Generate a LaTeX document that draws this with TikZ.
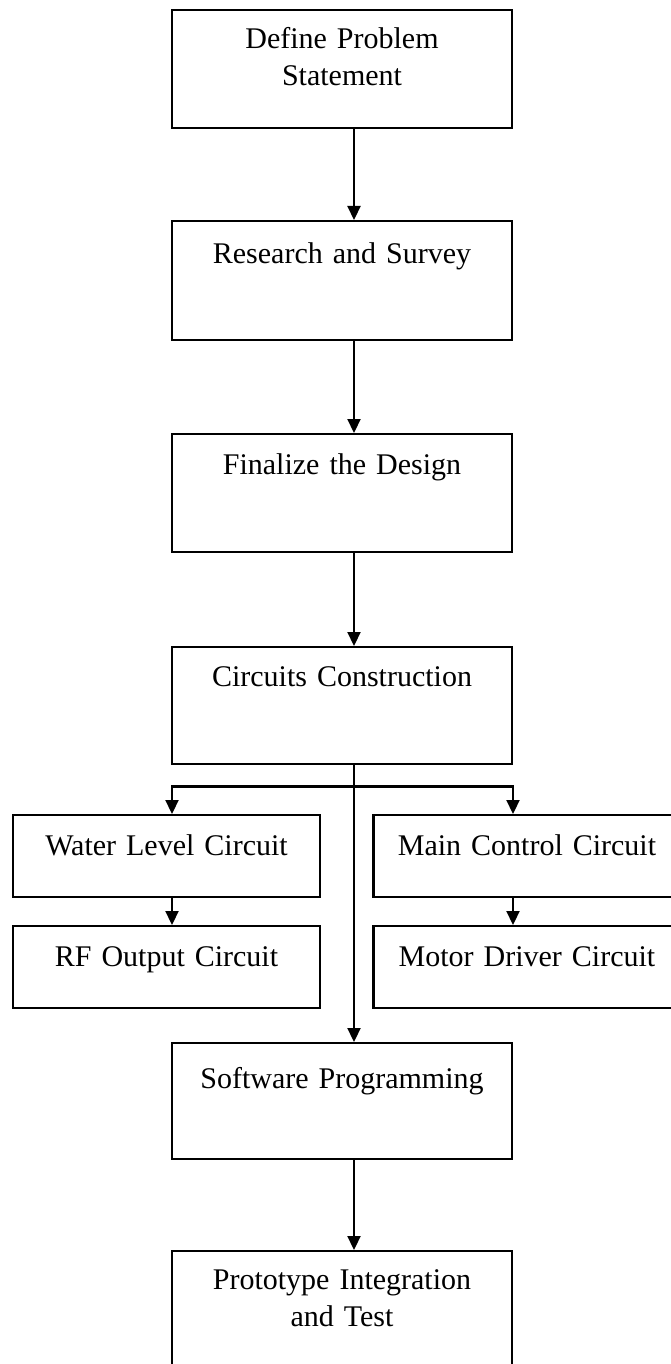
\documentclass[tikz,border=0pt]{standalone}
\usepackage{fontspec}
\setmainfont{Liberation Serif}
\usetikzlibrary{arrows.meta,calc}
\begin{document}
\begin{tikzpicture}[x=1pt,y=-1pt,
  box/.style={draw, line width=2.4pt, inner sep=0pt, align=center, anchor=north,
    font=\fontsize{30}{37}\selectfont},
  mainbox/.style={box, text width=340pt, text height=40pt, text depth=78pt},
  sidebox/.style={box, text width=307pt, text height=40pt, text depth=42pt},
  arr/.style={line width=2.2pt, -{Triangle[length=14pt,width=13pt]}},
  ln/.style={line width=2.2pt}]
\useasboundingbox (0,0) rectangle (671,1364);
\clip (0,0) rectangle (671,1364);
\coordinate (spine) at (354,0);
\coordinate (lbr) at (172,0);
\coordinate (rbr) at (513,0);
\node[mainbox, text height=38pt, text depth=80pt] (define) at (342,9) {Define Problem\\Statement};
\node[mainbox, text height=42pt, text depth=77pt] (research) at (342,220) {Research and Survey};
\node[mainbox] (finalize) at (342,433) {Finalize the Design};
\node[mainbox, text height=39pt, text depth=78pt] (circuits) at (342,646) {Circuits Construction};
\node[sidebox] (water) at (166.5,814) {Water Level Circuit};
\node[sidebox] (rf) at (166.5,925) {RF Output Circuit};
\node[sidebox] (main) at (527,814) {Main Control Circuit};
\node[sidebox] (motor) at (527,925) {Motor Driver Circuit};
\node[mainbox, text height=45pt, text depth=71pt] (software) at (342,1042) {Software Programming};
\node[mainbox, text height=38pt, text depth=80pt] (proto) at (342,1250) {Prototype Integration\\and Test};
\draw[arr] (define.south -| spine) -- (research.north -| spine);
\draw[arr] (research.south -| spine) -- (finalize.north -| spine);
\draw[arr] (finalize.south -| spine) -- (circuits.north -| spine);
\draw[arr] (circuits.south -| spine) -- (software.north -| spine);
\coordinate (bus) at ($(circuits.south)+(0,21)$);
\draw[ln] (circuits.south -| spine) -- (bus -| spine);
\draw[arr] (bus -| spine) -| (water.north -| lbr);
\draw[arr] (bus -| spine) -| (main.north -| rbr);
\draw[arr] (water.south -| lbr) -- (rf.north -| lbr);
\draw[arr] (main.south -| rbr) -- (motor.north -| rbr);
\draw[arr] (software.south -| spine) -- (proto.north -| spine);
\end{tikzpicture}
\end{document}
